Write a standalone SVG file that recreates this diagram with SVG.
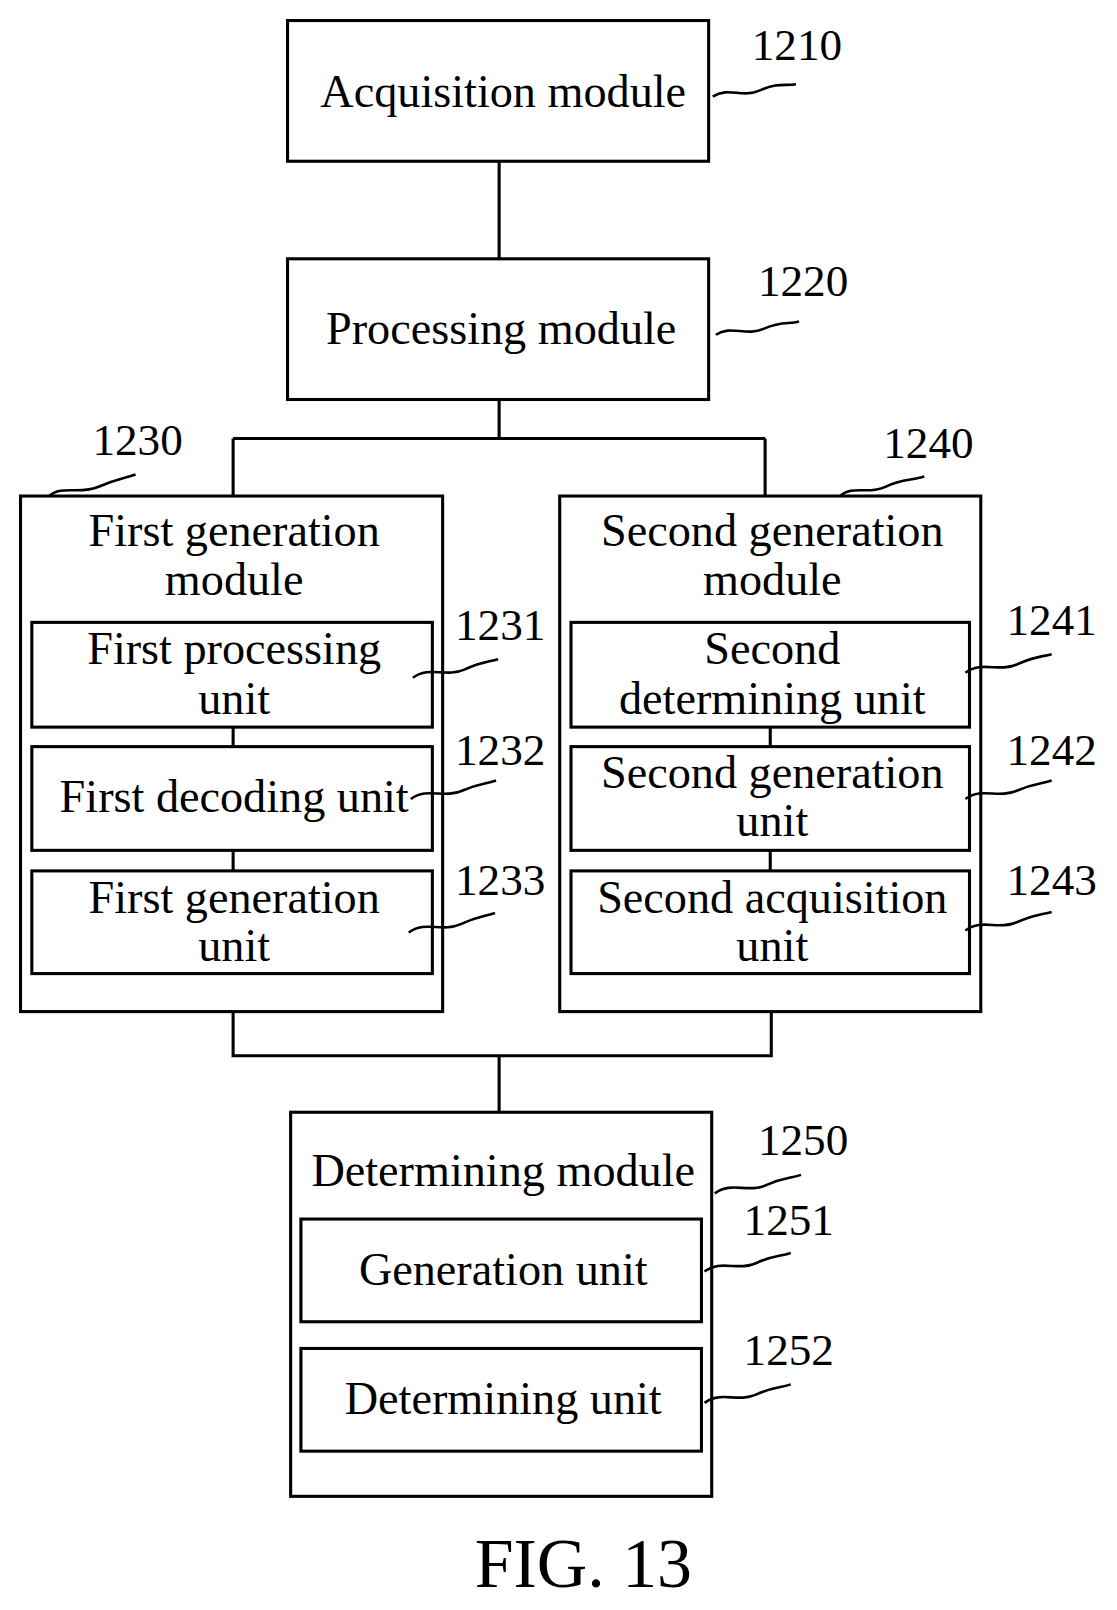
<svg xmlns="http://www.w3.org/2000/svg" width="1117" height="1610" viewBox="0 0 1117 1610">
<style>
rect{fill:none;stroke:#000;stroke-width:3}
.c{fill:none;stroke:#000;stroke-width:3}
text{font-family:"Liberation Serif",serif;font-size:45px;fill:#000;text-anchor:middle}
.n{font-size:44px;text-anchor:start}
.l{fill:none;stroke:#000;stroke-width:2.5}
</style>
<path d="M0 0H1117V1610H0Z" fill="#fff"/>
<g transform="scale(1.027)">
<g id="connectors">
<path class="c" d="M486 157V252M486 389V427M227 427H745M227 427V483M745 427V483M227 985V1028H751V985M486 1028V1083M227 708V727M227 828V848M750 708V727M750 828V848"/>
</g>
<g id="n1210"><rect x="280" y="20" width="410" height="137"/><text x="490" y="104">Acquisition module</text>
<text class="n" x="732" y="58">1210</text><path class="l" d="M694 94C710 84 722 96 740 88S765 84 775 82"/></g>
<g id="n1220"><rect x="280" y="252" width="410" height="137"/><text x="488" y="335">Processing module</text>
<text class="n" x="738" y="288">1220</text><path class="l" d="M697 326C712 316 726 328 744 320S768 316 778 313"/></g>
<g id="n1230"><rect x="20" y="483" width="411" height="502"/><text x="228" y="532">First generation</text><text x="228" y="579">module</text>
<text class="n" x="90" y="443">1230</text><path class="l" d="M48 483C60 472 78 482 96 474S120 466 132 462"/></g>
<g id="n1231"><rect x="31" y="606" width="390" height="102"/><text x="228" y="647">First processing</text><text x="228" y="695">unit</text>
<text class="n" x="443" y="623">1231</text><path class="l" d="M402 660C418 648 434 660 452 652S474 645 485 642"/></g>
<g id="n1232"><rect x="31" y="727" width="390" height="101"/><text x="228" y="791">First decoding unit</text>
<text class="n" x="443" y="745">1232</text><path class="l" d="M400 778C416 766 432 778 450 770S472 764 483 760"/></g>
<g id="n1233"><rect x="31" y="848" width="390" height="100"/><text x="228" y="889">First generation</text><text x="228" y="936">unit</text>
<text class="n" x="443" y="871">1233</text><path class="l" d="M398 908C414 896 430 908 448 900S470 893 482 889"/></g>
<g id="n1240"><rect x="545" y="483" width="410" height="502"/><text x="752" y="532">Second generation</text><text x="752" y="579">module</text>
<text class="n" x="860" y="446">1240</text><path class="l" d="M818 483C830 472 846 482 862 474S888 468 900 464"/></g>
<g id="n1241"><rect x="556" y="606" width="388" height="102"/><text x="752" y="647">Second</text><text x="752" y="695">determining unit</text>
<text class="n" x="980" y="618">1241</text><path class="l" d="M940 655C956 643 972 655 990 647S1012 640 1024 637"/></g>
<g id="n1242"><rect x="556" y="727" width="388" height="101"/><text x="752" y="767">Second generation</text><text x="752" y="814">unit</text>
<text class="n" x="980" y="745">1242</text><path class="l" d="M940 778C956 766 972 778 990 770S1012 764 1024 760"/></g>
<g id="n1243"><rect x="556" y="848" width="388" height="100"/><text x="752" y="889">Second acquisition</text><text x="752" y="936">unit</text>
<text class="n" x="980" y="871">1243</text><path class="l" d="M940 906C956 894 972 906 990 898S1012 891 1024 888"/></g>
<g id="n1250"><rect x="283" y="1083" width="410" height="374"/><text x="490" y="1155">Determining module</text>
<text class="n" x="738" y="1125">1250</text><path class="l" d="M696 1162C712 1150 728 1162 746 1154S768 1148 780 1144"/></g>
<g id="n1251"><rect x="293" y="1187" width="390" height="100"/><text x="490" y="1251">Generation unit</text>
<text class="n" x="724" y="1203">1251</text><path class="l" d="M686 1238C702 1226 718 1238 736 1230S758 1224 770 1220"/></g>
<g id="n1252"><rect x="293" y="1313" width="390" height="100"/><text x="490" y="1377">Determining unit</text>
<text class="n" x="724" y="1329">1252</text><path class="l" d="M686 1366C702 1354 718 1366 736 1358S758 1352 770 1348"/></g>
<text x="568" y="1545" style="font-size:68px">FIG. 13</text>
</g>
</svg>
